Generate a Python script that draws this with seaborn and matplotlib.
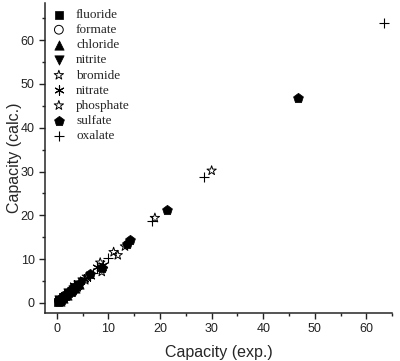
import matplotlib
matplotlib.use('Agg')
import matplotlib.pyplot as plt
from matplotlib.ticker import MultipleLocator
import seaborn as sns

# measured vs calculated capacity per ion
fluoride_x = [0.3, 0.5, 0.8, 1.2, 1.6, 2.1, 2.7]
fluoride_y = [0.2, 0.6, 0.7, 1.3, 1.5, 2.2, 2.6]
formate_x = [0.4, 0.9, 1.5, 2.4, 3.3]
formate_y = [0.5, 0.8, 1.6, 2.3, 3.4]
chloride_x = [0.6, 1.1, 1.9, 2.8, 3.6, 4.3]
chloride_y = [0.5, 1.2, 1.8, 2.9, 3.5, 4.4]
nitrite_x = [0.5, 1.3, 2.2, 3.1, 4.0, 4.8]
nitrite_y = [0.6, 1.2, 2.3, 3.0, 4.1, 4.7]
bromide_x = [0.7, 1.8, 3.0, 4.5, 5.8, 8.4, 11.0, 19.0]
bromide_y = [0.9, 1.6, 3.2, 4.3, 6.0, 9.2, 11.6, 19.4]
nitrate_x = [1.0, 2.5, 3.8, 5.2, 6.5, 7.8, 9.0, 3.4]
nitrate_y = [1.2, 2.3, 3.5, 5.4, 6.2, 8.1, 8.7, 4.1]
phosphate_x = [1.4, 3.5, 5.5, 8.7, 11.8, 13.2, 30.0]
phosphate_y = [1.2, 3.8, 5.2, 7.1, 10.9, 12.9, 30.2]
sulfate_x = [0.8, 2.0, 3.2, 4.1, 6.4, 8.8, 13.6, 14.2, 21.3, 46.8]
sulfate_y = [0.7, 2.1, 2.9, 4.2, 6.7, 7.9, 13.5, 14.3, 21.2, 46.8]
oxalate_x = [1.0, 2.6, 4.4, 7.0, 10.0, 18.5, 28.6, 63.5]
oxalate_y = [1.1, 2.4, 4.6, 6.8, 10.3, 18.6, 28.8, 64.0]

ions = ['fluoride', 'formate', 'chloride', 'nitrite', 'bromide',
        'nitrate', 'phosphate', 'sulfate', 'oxalate']
xs = [fluoride_x, formate_x, chloride_x, nitrite_x, bromide_x,
      nitrate_x, phosphate_x, sulfate_x, oxalate_x]
ys = [fluoride_y, formate_y, chloride_y, nitrite_y, bromide_y,
      nitrate_y, phosphate_y, sulfate_y, oxalate_y]

# marker, filled, size
styles = {
    'fluoride': ('s', True, 36),
    'formate': ('o', False, 40),
    'chloride': ('^', True, 45),
    'nitrite': ('v', True, 45),
    'bromide': ('*', False, 50),
    'nitrate': ((6, 2, 0), None, 45),
    'phosphate': ('*', False, 50),
    'sulfate': ('p', True, 55),
    'oxalate': ('+', None, 45),
}

sns.set_style('ticks')
plt.rcParams['font.family'] = ['Liberation Sans', 'DejaVu Sans']
plt.rcParams['xtick.direction'] = 'out'
plt.rcParams['ytick.direction'] = 'out'

fig = plt.figure(figsize=(4, 3.61), dpi=100)
ax = fig.add_axes([0.1125, 0.133, 0.868, 0.859])

for ion, x, y in zip(ions, xs, ys):
    m, filled, s = styles[ion]
    if filled is True:
        sns.scatterplot(x=x, y=y, marker=m, s=s, color='black',
                        edgecolor='black', linewidth=0.5, label=ion, ax=ax)
    elif filled is False:
        sns.scatterplot(x=x, y=y, marker=m, s=s, facecolor='none',
                        edgecolor='black', linewidth=0.7, label=ion, ax=ax)
    else:
        sns.scatterplot(x=x, y=y, marker=m, s=s, color='black',
                        linewidth=0.8, label=ion, ax=ax)

ax.set_xlim(-2.3, 65)
ax.set_ylim(-2.3, 68.5)
ax.xaxis.set_major_locator(MultipleLocator(10))
ax.xaxis.set_minor_locator(MultipleLocator(5))
ax.yaxis.set_major_locator(MultipleLocator(10))
ax.yaxis.set_minor_locator(MultipleLocator(5))
ax.tick_params(which='major', length=4, width=1, labelsize=9, colors='#222222')
ax.tick_params(which='minor', length=2.5, width=1, colors='#222222')
for sp in ['left', 'bottom']:
    ax.spines[sp].set_linewidth(1.1)
sns.despine(ax=ax)

ax.set_xlabel('Capacity (exp.)', fontsize=11.5, labelpad=7)
ax.set_ylabel('Capacity (calc.)', fontsize=11.5, labelpad=-1)

leg = ax.legend(loc='upper left', frameon=False, handletextpad=0.7,
                handlelength=1.2, labelspacing=0.22, borderaxespad=0.15,
                borderpad=0.3,
                prop={'family': 'Liberation Serif', 'size': 9.5})

fig.savefig('out.png', dpi=100)
